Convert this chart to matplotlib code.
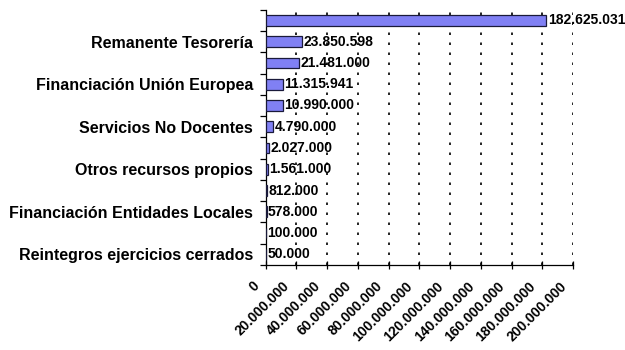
import numpy as np
import matplotlib
matplotlib.use("Agg")
import matplotlib.pyplot as plt
import matplotlib.transforms as mtransforms
from matplotlib.ticker import FuncFormatter, FixedLocator

plt.rcParams['font.family'] = ['Liberation Sans', 'DejaVu Sans']

# income sources, largest first; only every other name is printed on the axis
labels = ['', 'Remanente Tesorería', '', 'Financiación Unión Europea', '',
          'Servicios No Docentes', '', 'Otros recursos propios', '',
          'Financiación Entidades Locales', '', 'Reintegros ejercicios cerrados']
values = [182625031, 23850598, 21481000, 11315941, 10990000, 4790000,
          2027000, 1561000, 812000, 578000, 100000, 50000]
xticks = np.arange(0, 200000001, 20000000)


def miles(v, pos=None):
    return f"{int(round(v)):,}".replace(",", ".")


fig = plt.figure(figsize=(6.25, 3.5), dpi=100)
ax = fig.add_axes([0.425, 0.243, 0.492, 0.729])

n = len(values)
ypos = np.arange(n)
ax.barh(ypos, values, height=0.5, color='#8080f4', edgecolor='#1a1a3a', linewidth=0.9, zorder=3)

for y, v in zip(ypos, values):
    ax.annotate(miles(v), (v, y), xytext=(1, 0), textcoords='offset points',
                ha='left', va='center', fontsize=10, fontweight='bold', zorder=4)

ax.set_xlim(0, 200000000)
ax.set_ylim(n - 0.5, -0.5)

# category labels at the centres, tick marks at the boundaries
ax.set_yticks(ypos[1::2])
ax.set_yticklabels(labels[1::2], fontsize=11.5, fontweight='bold')
ax.tick_params(axis='y', which='major', length=0, pad=9)
ax.yaxis.set_minor_locator(FixedLocator(np.arange(-0.5, n, 1)))
ax.tick_params(axis='y', which='minor', length=4, width=0.9, direction='out')

ax.set_xticks(xticks)
ax.xaxis.set_major_formatter(FuncFormatter(miles))
ax.tick_params(axis='x', length=6, width=0.9, direction='inout', pad=7)
shift = mtransforms.ScaledTranslation(-10 / 72, 0, fig.dpi_scale_trans)
for t in ax.get_xticklabels():
    t.set_rotation(45)
    t.set_ha('right')
    t.set_va('top')
    t.set_rotation_mode('anchor')
    t.set_fontsize(10)
    t.set_fontweight('bold')
    t.set_transform(t.get_transform() + shift)

ax.xaxis.grid(True, color='black', linestyle=(0, (1.5, 4.5)), linewidth=1.2, zorder=0)
ax.set_axisbelow(True)
for s in ['top', 'right']:
    ax.spines[s].set_visible(False)
for s in ['left', 'bottom']:
    ax.spines[s].set_linewidth(0.9)

fig.savefig('out.png', dpi=100, facecolor='white')
